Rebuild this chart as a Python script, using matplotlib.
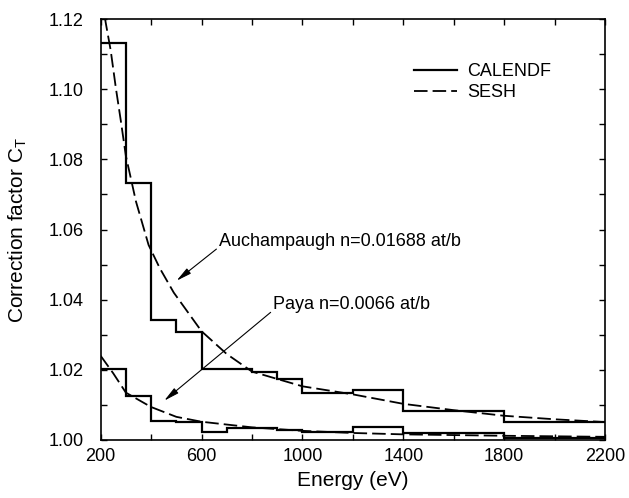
import matplotlib
matplotlib.use("Agg")
import matplotlib.pyplot as plt
from matplotlib.ticker import FixedLocator, MultipleLocator, FormatStrFormatter

plt.rcParams['font.family'] = ['Liberation Sans', 'DejaVu Sans']
plt.rcParams['font.size'] = 13

# CALENDF step histograms
auch_edges = [200, 300, 400, 500, 600, 800, 900, 1000, 1200, 1400, 1800, 2200]
auch_calendf = [1.1131, 1.0732, 1.0342, 1.0309, 1.0202, 1.0194, 1.0174, 1.0135, 1.0143, 1.0084, 1.0051]
paya_edges = [200, 300, 400, 500, 600, 700, 900, 1000, 1200, 1400, 1800, 2200]
paya_calendf = [1.0201, 1.0125, 1.0055, 1.0052, 1.0024, 1.0033, 1.0029, 1.0023, 1.0036, 1.0020, 1.0007]

# SESH curves
auch_sesh_E = [200, 220, 240, 260, 280, 300, 340, 390, 435, 490, 600, 700, 800, 1000, 1200, 1400, 1600, 1800, 2000, 2200]
auch_sesh_C = [1.128, 1.119, 1.111, 1.1005, 1.091, 1.081, 1.068, 1.0556, 1.0489, 1.042, 1.031, 1.0245, 1.0195,
               1.0153, 1.0130, 1.0103, 1.0085, 1.0069, 1.0059, 1.0051]
paya_sesh_E = [200, 250, 300, 400, 500, 600, 800, 1000, 1200, 1400, 1800, 2200]
paya_sesh_C = [1.0240, 1.0190, 1.0135, 1.0094, 1.0066, 1.0052, 1.0036, 1.0026, 1.0020, 1.0016, 1.0012, 1.0009]

x_major = [200, 600, 1000, 1400, 1800, 2200]
x_minor = [400, 800, 1200, 1600, 2000]

fig = plt.figure(figsize=(6.29, 4.98), dpi=100)
ax = fig.add_axes([0.160, 0.1165, 0.802, 0.8453])

ax.stairs(auch_calendf, auch_edges, color='black', lw=1.6, baseline=None, label='CALENDF')
ax.stairs(paya_calendf, paya_edges, color='black', lw=1.6, baseline=None)
ax.plot(auch_sesh_E, auch_sesh_C, color='black', lw=1.3, dashes=(7.5, 2.8), label='SESH')
ax.plot(paya_sesh_E, paya_sesh_C, color='black', lw=1.3, dashes=(7.5, 2.8))

ax.set_xlim(200, 2200)
ax.set_ylim(1.00, 1.12)
ax.xaxis.set_major_locator(FixedLocator(x_major))
ax.xaxis.set_minor_locator(FixedLocator(x_minor))
ax.yaxis.set_major_locator(MultipleLocator(0.02))
ax.yaxis.set_minor_locator(MultipleLocator(0.01))
ax.yaxis.set_major_formatter(FormatStrFormatter('%.2f'))
ax.tick_params(which='both', direction='in', top=True, right=True, length=4, width=1, labelsize=13)
ax.tick_params(axis='y', pad=12)
ax.tick_params(axis='x', pad=6)
for s in ax.spines.values():
    s.set_linewidth(1.2)

ax.set_xlabel('Energy (eV)', fontsize=15, labelpad=4)
ax.set_ylabel(r'Correction factor C$_\mathregular{T}$', fontsize=15, labelpad=14)

ax.legend(loc='upper left', bbox_to_anchor=(0.621, 0.895), frameon=False, borderpad=0,
          borderaxespad=0, handlelength=2.4, handletextpad=0.55, labelspacing=0.2, fontsize=13)

ax.annotate('Auchampaugh n=0.01688 at/b', xy=(501, 1.0454), xytext=(670, 1.0565),
            ha='left', va='center', fontsize=13,
            arrowprops=dict(arrowstyle='-|>,head_length=0.7,head_width=0.15', color='black', lw=0.8,
                            shrinkA=0, shrinkB=0, relpos=(0, 0.2)))
ax.annotate('Paya n=0.0066 at/b', xy=(452, 1.0112), xytext=(885, 1.0385),
            ha='left', va='center', fontsize=13,
            arrowprops=dict(arrowstyle='-|>,head_length=0.7,head_width=0.15', color='black', lw=0.8,
                            shrinkA=0, shrinkB=0, relpos=(0, 0.2)))

fig.savefig('out.png', dpi=100)
